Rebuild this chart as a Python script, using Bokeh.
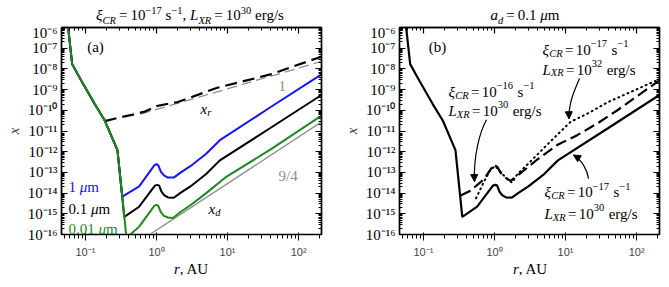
import math
from bokeh.plotting import figure
from bokeh.models import (Range1d, LogAxis, FixedTicker, CustomJSTickFormatter,
                          Label, Arrow, NormalHead, Div)
from bokeh.layouts import row, column
from bokeh.embed import file_html
from bokeh.resources import INLINE

# ---------------- data ----------------
# common steep inner part (dust dominated), r in AU, x = ionisation fraction
r_steep = [0.053, 0.065, 0.088, 0.135, 0.187, 0.282]
x_steep = [1e-5, 1.7e-8, 2.6e-9, 2.0e-10, 3.2e-11, 1.2e-12]

# panel (a): xi_CR=1e-17, L_XR=1e30, three grain sizes
r_blue = [0.33, 0.57, 0.93, 1.0, 1.06, 1.15, 1.27, 1.45, 1.75, 2.2, 3.0, 5.0, 7.8, 40, 210]
x_blue = [6.8e-15, 2.1e-14, 2.2e-13, 2.5e-13, 2.2e-13, 1.1e-13, 7.1e-14, 5.6e-14, 5.6e-14,
          1.0e-13, 2.0e-13, 7.9e-13, 3.6e-12, 1.4e-10, 5.4e-9]

r_black = [0.352, 0.57, 0.95, 1.03, 1.09, 1.17, 1.28, 1.45, 1.75, 2.2, 3.0, 5.0, 7.8, 40, 210]
x_black = [7.1e-16, 2.2e-15, 2.3e-14, 2.5e-14, 2.3e-14, 1.2e-14, 8.0e-15, 6.2e-15, 6.0e-15,
           1.05e-14, 2.1e-14, 8.3e-14, 3.8e-13, 1.4e-11, 5.5e-10]

r_green = [0.378, 0.57, 0.93, 1.0, 1.06, 1.15, 1.27, 1.45, 1.7, 2.2, 3.0, 5.0, 9.7, 40, 210]
x_green = [6.8e-17, 2.4e-16, 2.4e-15, 2.7e-15, 2.4e-15, 1.2e-15, 7.9e-16, 6.6e-16, 6.3e-16,
           1.26e-15, 2.6e-15, 1.0e-14, 6.3e-14, 1.26e-12, 5.6e-11]

# x_r (dashed) and the two gray power-law guides
r_xr = [0.187, 0.3, 0.45, 0.7, 1.0, 1.5, 2.0, 7.0, 40, 210]
x_xr = [3.0e-11, 4.5e-11, 6.0e-11, 8.9e-11, 1.6e-10, 2.1e-10, 2.5e-10, 1.2e-9, 5.4e-9, 3.9e-8]
r_slope1 = [0.6, 210]
x_slope1 = [6.6e-11, 2.3e-8]
r_slope94 = [0.7, 210]
x_slope94 = [7.3e-17, 2.75e-11]

# panel (b): a_d = 0.1 um
r_cr16 = [0.333, 0.46, 0.71, 0.98, 1.1, 1.21, 1.43, 1.68, 2.09, 4.0, 7.6, 14.6, 27.9, 53, 210]
x_cr16 = [7.6e-15, 1.3e-14, 4.7e-14, 2.4e-13, 1.8e-13, 1.0e-13, 5.6e-14, 3.9e-14, 6.8e-14,
          4.2e-13, 2.1e-12, 6.3e-12, 2.3e-11, 9.8e-11, 2.8e-9]
r_xr32 = [0.55, 0.7, 0.88, 1.03, 1.2, 1.51, 1.77, 2.09, 2.9, 4.4, 6.8, 11.8, 20.2, 38.6, 210]
x_xr32 = [5.6e-15, 3.2e-14, 1.4e-13, 2.0e-13, 1.1e-13, 4.7e-14, 3.2e-14, 8.1e-14, 2.4e-13,
          1.0e-12, 4.4e-12, 2.8e-11, 6.8e-11, 2.4e-10, 3.2e-9]

y_major = [10.0 ** k for k in range(-16, -5)]
x_major = [0.01, 0.1, 1.0, 10.0, 100.0, 1000.0]

# ---------------- styling ----------------
BLUE = "#1414ff"
GREEN = "#1d8a1d"
GRAY = "#8e8e8e"
FONT = "Liberation Serif"
XR0, XR1 = 0.046, 210.0
LX0, LX1 = math.log10(XR0), math.log10(XR1)

W_N = {' ': 0.25, ',': 0.25, '.': 0.25, '/': 0.278, '=': 0.564, '\u2212': 0.564, '-': 0.333,
       '(': 0.333, ')': 0.333, 'a': 0.444, 'b': 0.5, 'e': 0.444, 'g': 0.5, 'r': 0.333,
       's': 0.389, 'm': 0.778, 'A': 0.722, 'U': 0.722, '\u03bc': 0.576}
W_I = {'x': 0.444, 'r': 0.389, 'd': 0.5, 'a': 0.5, 'C': 0.667, 'R': 0.611, 'L': 0.556,
       'X': 0.611, '\u03be': 0.45, '\u03bc': 0.5}


def tw(s, italic):
    t = W_I if italic else W_N
    return sum(t.get(c, 0.5) for c in s)


def make_conv(frame_left):
    def conv(px, py):
        lx = LX0 + (px - frame_left) / 260.0 * (LX1 - LX0)
        ly = -6.0 - (py - 27.0) / 211.0 * 10.0
        return 10 ** lx, 10 ** ly
    return conv


def rich(p, conv, px, py, segs, size=15.0, color="black", align="left"):
    x, y = conv(px, py)
    widths = []
    for t, k in segs:
        if k == "gap":
            widths.append(t * size)
            continue
        it = k in ("i", "sub")
        fs = size * 0.7 if k in ("sup", "sub") else size
        widths.append(tw(t, it) * fs)
    off = -sum(widths) / 2.0 if align == "center" else 0.0
    for (t, k), w in zip(segs, widths):
        if k != "gap":
            it = k in ("i", "sub")
            fs = size * 0.7 if k in ("sup", "sub") else size
            yo = 0.42 * size if k == "sup" else (-0.22 * size if k == "sub" else 0.0)
            p.add_layout(Label(x=x, y=y, x_offset=off, y_offset=yo, text=t,
                               text_font=FONT, text_font_size=f"{fs:.1f}px",
                               text_font_style="italic" if it else "normal",
                               text_color=color, text_baseline="alphabetic",
                               text_align="left"))
        off += w


def curved_arrow(p, conv, start, c0, c1, end):
    s, a, b, e = conv(*start), conv(*c0), conv(*c1), conv(*end)
    p.bezier(x0=s[0], y0=s[1], x1=e[0], y1=e[1], cx0=a[0], cy0=a[1], cx1=b[0], cy1=b[1],
             line_color="black", line_width=1.2)
    hx = end[0] - 0.2 * (end[0] - c1[0])
    hy = end[1] - 0.2 * (end[1] - c1[1])
    h = conv(hx, hy)
    p.add_layout(Arrow(end=NormalHead(size=7, fill_color="black", line_color="black", line_width=1),
                       x_start=h[0], y_start=h[1], x_end=e[0], y_end=e[1],
                       line_color="black", line_width=1.2))


SUP = r"""
const e = Math.round(Math.log10(tick));
const m = {"-": "\u207b", "0": "\u2070", "1": "\u00b9", "2": "\u00b2", "3": "\u00b3",
           "4": "\u2074", "5": "\u2075", "6": "\u2076", "7": "\u2077", "8": "\u2078", "9": "\u2079"};
return "10" + String(e).split("").map(c => m[c]).join("");
"""

TOP_B = 3
BOT_B = 22
FIG_H = TOP_B + 211 + BOT_B
TITLE_H = 27 - TOP_B


def make_fig(bl, width, br):
    p = figure(width=width, height=FIG_H, x_axis_type="log", y_axis_type="log",
               x_range=Range1d(XR0, XR1), y_range=Range1d(1e-16, 1e-6),
               output_backend="svg", toolbar_location=None,
               min_border_left=bl, min_border_right=br, min_border_top=TOP_B,
               min_border_bottom=BOT_B, margin=0,
               background_fill_color="white", border_fill_color="white")
    p.grid.visible = False
    yt = FixedTicker(ticks=y_major,
                     minor_ticks=[m * 10.0 ** k for k in range(-17, -6) for m in range(2, 10)])
    xt = FixedTicker(ticks=x_major,
                     minor_ticks=[m * 10.0 ** k for k in range(-2, 3) for m in range(2, 10)])
    p.xaxis.ticker = xt
    p.yaxis.ticker = yt
    p.xaxis.formatter = CustomJSTickFormatter(code=SUP)
    p.yaxis.formatter = CustomJSTickFormatter(code=SUP)
    top = LogAxis(ticker=xt, formatter=CustomJSTickFormatter(code="return '';"))
    rgt = LogAxis(ticker=yt, formatter=CustomJSTickFormatter(code="return '';"))
    p.add_layout(top, "above")
    p.add_layout(rgt, "right")
    for ax in [p.xaxis[0], p.yaxis[0], top, rgt]:
        ax.axis_line_color = "black"
        ax.axis_line_width = 1.4
        ax.major_tick_in = 6
        ax.major_tick_out = 0
        ax.minor_tick_in = 3
        ax.minor_tick_out = 0
        ax.major_tick_line_color = "black"
        ax.minor_tick_line_color = "black"
        ax.major_tick_line_width = 1.2
        ax.minor_tick_line_width = 1
        ax.major_label_text_font = FONT
        ax.major_label_text_color = "black"
    for ax in [p.xaxis[0], p.yaxis[0]]:
        ax.major_label_text_font_size = "15px"
    p.xaxis[0].major_label_standoff = 5
    p.yaxis[0].major_label_standoff = 4
    p.yaxis[0].axis_label = "x"
    p.yaxis[0].axis_label_text_font = FONT
    p.yaxis[0].axis_label_text_font_style = "italic"
    p.yaxis[0].axis_label_text_font_size = "15px"
    p.yaxis[0].axis_label_standoff = 3
    for ax in [top, rgt]:
        ax.major_label_text_font_size = "1px"
        ax.major_label_standoff = 0
    p.outline_line_color = "black"
    p.outline_line_width = 1.4
    return p


def text_div(html, width, height, center, shift):
    inner = (f'<div style="position:relative; top:{shift}px; margin-left:{center - 160:.0f}px; '
             f'width:320px; text-align:center; line-height:15px; white-space:nowrap; '
             f'font-family:\'Liberation Serif\', serif; font-size:15px; color:black;">'
             f'{html}</div>')
    return Div(text=inner, width=width, height=height, margin=0,
               styles={"overflow": "visible", "padding": "0px", "margin": "0px"})


SUPT = '<sup style="font-size:70%; line-height:0;">{}</sup>'
SUBT = '<sub style="font-size:70%; line-height:0;"><i>{}</i></sub>'


def xi_html(e):
    return f'<i>\u03be</i>{SUBT.format("CR")}\u2009=\u200910{SUPT.format(e)} s{SUPT.format("\u22121")}'


def l_html(e):
    return f'<i>L</i>{SUBT.format("XR")}\u2009=\u200910{SUPT.format(e)} erg/s'


# ---------------- panel (a) ----------------
WA = 333
pa = make_fig(61, WA, 12)
ca = make_conv(61)
pa.line(r_slope1, x_slope1, line_color=GRAY, line_width=1.3, line_dash="10 5")
pa.line(r_slope94, x_slope94, line_color=GRAY, line_width=1.3)
pa.line(r_xr, x_xr, line_color="black", line_width=2.2, line_dash="12 6")
pa.line(r_steep + r_blue, x_steep + x_blue, line_color=BLUE, line_width=2)
pa.line(r_steep + r_black, x_steep + x_black, line_color="black", line_width=2)
pa.line(r_steep + r_green, x_steep + x_green, line_color=GREEN, line_width=2)

rich(pa, ca, 95, 47, [("(a)", "n")], align="center")
rich(pa, ca, 278, 86.5, [("1", "n")], color=GRAY)
rich(pa, ca, 200, 110, [("x", "i"), ("r", "sub")])
rich(pa, ca, 278, 178, [("9/4", "n")], color=GRAY)
rich(pa, ca, 208, 212, [("x", "i"), ("d", "sub")])
rich(pa, ca, 68, 190, [("1", "n"), (0.25, "gap"), ("\u03bc", "i"), ("m", "n")], color=BLUE)
rich(pa, ca, 68, 211.5, [("0.1", "n"), (0.25, "gap"), ("\u03bc", "i"), ("m", "n")])
rich(pa, ca, 68, 232, [("0.01", "n"), (0.25, "gap"), ("\u03bc", "i"), ("m", "n")], color=GREEN)

title_a = text_div(xi_html("\u221217") + ", " + l_html("30"), WA, TITLE_H, 190, 8)
xlab_a = text_div("<i>r</i>, AU", WA, 20, 191, 2)

# ---------------- panel (b) ----------------
WB = 334
pb = make_fig(66, WB, 8)
cb = make_conv(399)
pb.line(r_xr32, x_xr32, line_color="black", line_width=2, line_dash="1 4", line_cap="round")
pb.line(r_cr16, x_cr16, line_color="black", line_width=2.2, line_dash="11 5")
pb.line(r_steep + r_black, x_steep + x_black, line_color="black", line_width=2.2)

rich(pb, cb, 437, 47, [("(b)", "n")], align="center")


def xi_line(p, conv, px, py, exp):
    rich(p, conv, px, py, [("\u03be", "i"), ("CR", "sub"), (0.15, "gap"), ("=", "n"), (0.15, "gap"),
                           ("10", "n"), (exp, "sup"), (0.3, "gap"), ("s", "n"), ("\u22121", "sup")])


def l_line(p, conv, px, py, exp):
    rich(p, conv, px, py, [("L", "i"), ("XR", "sub"), (0.15, "gap"), ("=", "n"), (0.15, "gap"),
                           ("10", "n"), (exp, "sup"), (0.3, "gap"), ("erg/s", "n")])


xi_line(pb, cb, 448, 93, "\u221216")
l_line(pb, cb, 448, 112, "30")
xi_line(pb, cb, 542, 50, "\u221217")
l_line(pb, cb, 542, 70, "32")
xi_line(pb, cb, 544, 195, "\u221217")
l_line(pb, cb, 544, 217, "30")

curved_arrow(pb, cb, (486, 121), (479, 134), (473, 158), (474, 184))
curved_arrow(pb, cb, (579, 79), (574, 91), (568, 104), (568.5, 120))
curved_arrow(pb, cb, (588, 181), (587, 172), (581, 162), (573, 157))

title_b = text_div("<i>a</i>" + SUBT.format("d") + "\u2009=\u20090.1 <i>\u03bc</i>m", WB, TITLE_H, 525 - WA, 8)
xlab_b = text_div("<i>r</i>, AU", WB, 20, 530 - WA, 2)

layout = row(column(title_a, pa, xlab_a, margin=0, spacing=0),
             column(title_b, pb, xlab_b, margin=0, spacing=0), margin=0, spacing=0)
open("out.html", "w", encoding="utf-8").write(file_html(layout, INLINE))
